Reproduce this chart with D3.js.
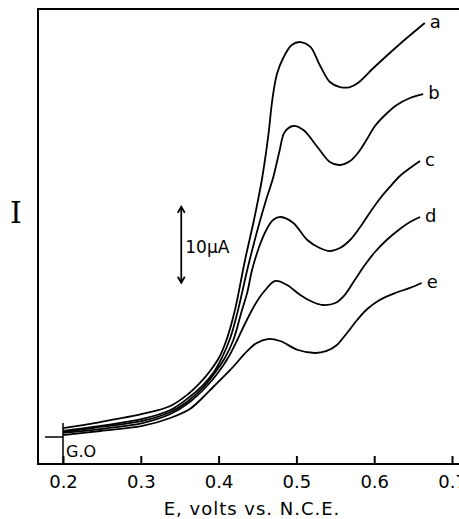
<!DOCTYPE html>
<html>
<head>
<meta charset="utf-8">
<script src="https://cdn.jsdelivr.net/npm/d3@7"></script>
<style>
body { margin: 0; background: #fff; }
</style>
</head>
<body>
<div id="chart"></div>
<script>
// curves: [E (volts vs N.C.E.), current (uA above galvanometer zero)]
var curveA = [[0.200,1.18],[0.248,1.97],[0.302,3.03],[0.338,4.08],[0.361,5.66],[0.376,7.11],[0.389,8.68],[0.401,10.53],[0.411,13.03],[0.421,16.71],[0.434,23.29],[0.446,28.82],[0.456,34.08],[0.464,39.74],[0.469,44.34],[0.475,47.76],[0.483,49.87],[0.494,51.58],[0.505,51.97],[0.518,51.32],[0.530,48.95],[0.543,46.71],[0.556,46.05],[0.569,46.05],[0.579,46.58],[0.599,48.55],[0.633,51.71],[0.665,54.47]];
var curveB = [[0.200,0.79],[0.248,1.45],[0.302,2.37],[0.338,3.55],[0.361,5.13],[0.380,6.84],[0.393,8.42],[0.404,10.39],[0.415,13.03],[0.425,16.71],[0.438,22.5],[0.451,27.63],[0.461,31.18],[0.470,34.08],[0.478,37.5],[0.485,40.13],[0.496,40.92],[0.509,40.39],[0.527,38.16],[0.543,36.18],[0.556,35.79],[0.569,36.32],[0.579,37.37],[0.590,39.08],[0.601,40.92],[0.614,42.37],[0.629,43.68],[0.646,44.61],[0.663,45.13]];
var curveC = [[0.200,0.66],[0.248,1.32],[0.302,2.11],[0.338,3.29],[0.361,4.74],[0.383,6.84],[0.395,8.42],[0.408,10.39],[0.419,12.76],[0.429,16.32],[0.437,19.08],[0.443,21.97],[0.453,25.26],[0.462,27.37],[0.470,28.55],[0.480,28.95],[0.496,28.16],[0.514,25.92],[0.530,24.87],[0.543,24.47],[0.556,24.87],[0.569,25.92],[0.582,27.63],[0.595,29.61],[0.607,31.32],[0.620,32.89],[0.633,34.34],[0.646,35.39],[0.659,36.32]];
var curveD = [[0.200,0.53],[0.248,1.05],[0.302,1.84],[0.338,3.03],[0.363,4.61],[0.385,6.71],[0.399,8.42],[0.412,10.39],[0.424,12.76],[0.435,15.13],[0.448,17.63],[0.459,19.21],[0.473,20.53],[0.488,20.0],[0.505,18.68],[0.521,17.76],[0.534,17.37],[0.550,17.63],[0.562,18.68],[0.575,20.66],[0.588,22.63],[0.601,24.34],[0.616,25.92],[0.633,27.37],[0.646,28.29],[0.659,28.95]];
var curveE = [[0.200,0.26],[0.248,0.79],[0.302,1.45],[0.338,2.5],[0.363,3.68],[0.379,5.13],[0.393,6.58],[0.415,8.82],[0.437,11.32],[0.449,12.37],[0.463,12.89],[0.479,12.63],[0.502,11.45],[0.524,11.05],[0.539,11.32],[0.552,12.11],[0.565,13.68],[0.578,15.39],[0.591,16.84],[0.607,18.03],[0.627,18.95],[0.646,19.61],[0.661,20.26]];
var curveNames = ["a", "b", "c", "d", "e"];
var xTicks = [0.2, 0.3, 0.4, 0.5, 0.6, 0.7];
var scaleBarE = 0.352;
var scaleBarI = [20.3, 30.3];

var w = 459;
var h = 519;
var frameLeft = 38, frameTop = 9, frameBottom = 464;

var svg = d3.select("#chart")
  .append("svg")
  .attr("width", w)
  .attr("height", h);

var x = d3.scaleLinear().domain([0.2, 0.7]).range([63, 452]);
// 10 uA = 76 px, zero current at the G.O line
var y = d3.scaleLinear().domain([0, 10]).range([437, 361]);

//frame: top, left and bottom lines
svg.append("path")
  .attr("d", "M" + w + "," + frameTop + "H" + frameLeft + "V" + frameBottom + "H" + w)
  .attr("fill", "none")
  .attr("stroke", "#000")
  .attr("stroke-width", 2);

//bottom axis with inward ticks
var xAxis = svg.append("g")
  .attr("transform", "translate(0," + frameBottom + ")")
  .call(d3.axisBottom(x)
    .tickValues(xTicks)
    .tickFormat(d3.format(".1f"))
    .tickSizeInner(-8)
    .tickSizeOuter(0)
    .tickPadding(11));
xAxis.select(".domain").remove();
xAxis.selectAll(".tick line").attr("stroke", "#000").attr("stroke-width", 2);
xAxis.selectAll(".tick text")
  .attr("font-family", "DejaVu Sans, sans-serif")
  .attr("font-size", "18px")
  .attr("fill", "#000");

svg.append("text")
  .attr("x", 252)
  .attr("y", 515)
  .attr("text-anchor", "middle")
  .attr("font-family", "DejaVu Sans, sans-serif")
  .attr("font-size", "18px")
  .attr("letter-spacing", "1px")
  .text("E, volts vs. N.C.E.");

svg.append("text")
  .attr("x", 16)
  .attr("y", 223)
  .attr("text-anchor", "middle")
  .attr("font-family", "DejaVu Serif, serif")
  .attr("font-size", "30px")
  .text("I");

//galvanometer zero marker
svg.append("line")
  .attr("x1", 45).attr("x2", x(0.2))
  .attr("y1", y(0)).attr("y2", y(0))
  .attr("stroke", "#000").attr("stroke-width", 1.5);
svg.append("line")
  .attr("x1", x(0.2)).attr("x2", x(0.2))
  .attr("y1", y(0) - 14).attr("y2", frameBottom)
  .attr("stroke", "#000").attr("stroke-width", 1.5);
svg.append("text")
  .attr("x", x(0.2) + 3)
  .attr("y", 457)
  .attr("font-family", "DejaVu Sans, sans-serif")
  .attr("font-size", "16px")
  .text("G.O");

//curves
var curves = [curveA, curveB, curveC, curveD, curveE];
var line = d3.line()
  .x(function(d) { return x(d[0]); })
  .y(function(d) { return y(d[1]); })
  .curve(d3.curveCatmullRom.alpha(0.5));

svg.selectAll("path.curve")
  .data(curves)
  .enter()
  .append("path")
  .attr("class", "curve")
  .attr("d", line)
  .attr("fill", "none")
  .attr("stroke", "#000")
  .attr("stroke-width", 1.8);

svg.selectAll("text.curveLabel")
  .data(curves)
  .enter()
  .append("text")
  .attr("class", "curveLabel")
  .attr("x", function(d) { return x(d[d.length - 1][0]) + 5; })
  .attr("y", function(d) { return y(d[d.length - 1][1]) + 5; })
  .attr("font-family", "DejaVu Sans, sans-serif")
  .attr("font-size", "18px")
  .text(function(d, i) { return curveNames[i]; });

//10 uA scale bar with arrow heads
var sx = x(scaleBarE);
var sTop = y(scaleBarI[1]);
var sBot = y(scaleBarI[0]);
svg.append("line")
  .attr("x1", sx).attr("x2", sx)
  .attr("y1", sTop).attr("y2", sBot)
  .attr("stroke", "#000").attr("stroke-width", 1.8);
svg.append("path")
  .attr("d", "M" + (sx - 3.5) + "," + (sTop + 6) + "L" + sx + "," + sTop + "L" + (sx + 3.5) + "," + (sTop + 6) +
    "M" + (sx - 3.5) + "," + (sBot - 6) + "L" + sx + "," + sBot + "L" + (sx + 3.5) + "," + (sBot - 6))
  .attr("fill", "none")
  .attr("stroke", "#000")
  .attr("stroke-width", 1.8);
svg.append("text")
  .attr("x", sx + 4)
  .attr("y", (sTop + sBot) / 2 + 8)
  .attr("font-family", "DejaVu Sans, sans-serif")
  .attr("font-size", "17px")
  .text("10\u00b5A");
</script>
</body>
</html>
